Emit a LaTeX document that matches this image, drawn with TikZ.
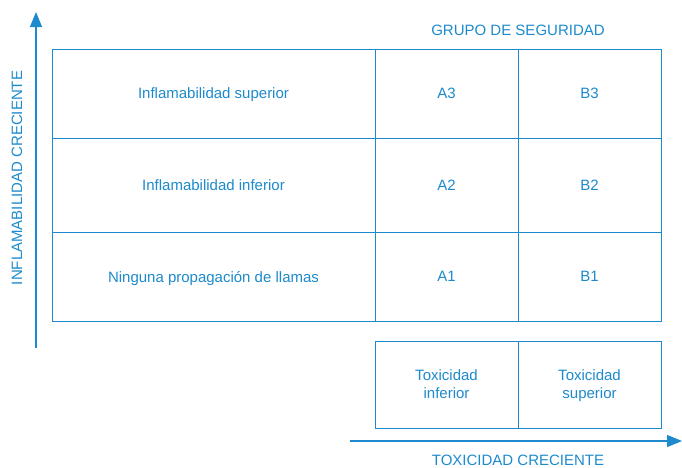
\documentclass[tikz,border=0pt]{standalone}
\usepackage{fontspec}
\setmainfont{Liberation Sans}
\usepackage{xcolor}
\usepackage{tikz}
\usetikzlibrary{arrows.meta,positioning}

\definecolor{azul}{RGB}{28,138,204}

\tikzset{
  celda/.style={draw=azul,line width=1pt,rectangle,inner sep=0pt,text=azul,
    font=\fontsize{15}{18}\selectfont,align=center,text depth=0pt},
  eje/.style={draw=azul,line width=1.3pt,-{Triangle[length=15pt,width=12pt]}},
  rotulo/.style={text=azul,font=\fontsize{15}{18}\selectfont}
}

\begin{document}
\begin{tikzpicture}[x=1pt,y=-1pt]
    \useasboundingbox (0,0) rectangle (682,467);
    % tabla principal
    \path
        (213.5,93.5)  node[celda,minimum width=323pt,minimum height=89pt] (fsup){Inflamabilidad superior}
     ++ (0,91.5)      node[celda,minimum width=323pt,minimum height=94pt] (finf){Inflamabilidad inferior}
     ++ (0,91.5)      node[celda,minimum width=323pt,minimum height=89pt] (fnin){Ninguna propagaci\'on de llamas}
     ;
    \path
        (446.5,93.5)  node[celda,minimum width=143pt,minimum height=89pt] (a3){A3}
     ++ (0,91.5)      node[celda,minimum width=143pt,minimum height=94pt] (a2){A2}
     ++ (0,91.5)      node[celda,minimum width=143pt,minimum height=89pt] (a1){A1}
     ;
    \path
        (589.5,93.5)  node[celda,minimum width=143pt,minimum height=89pt] (b3){B3}
     ++ (0,91.5)      node[celda,minimum width=143pt,minimum height=94pt] (b2){B2}
     ++ (0,91.5)      node[celda,minimum width=143pt,minimum height=89pt] (b1){B1}
     ;
    % toxicidad
    \path
        (446.5,384.5) node[celda,minimum width=143pt,minimum height=87pt] (tinf){Toxicidad\\inferior}
     ++ (143,0)       node[celda,minimum width=143pt,minimum height=87pt] (tsup){Toxicidad\\superior}
     ;
    \node[rotulo] (grupo) at (518,30) {GRUPO DE SEGURIDAD};
    % ejes
    \coordinate (v0) at (36,348);
    \coordinate (v1) at (36,12);
    \coordinate (h0) at (350,441);
    \coordinate (h1) at (682,441);
    \draw [eje] (v0)--(v1);
    \draw [eje] (h0)--(h1);
    \node[rotulo,rotate=90] (inflam) at (17,178) {INFLAMABILIDAD CRECIENTE};
    \node[rotulo] (toxic) at (518,460) {TOXICIDAD CRECIENTE};
\end{tikzpicture}
\end{document}
